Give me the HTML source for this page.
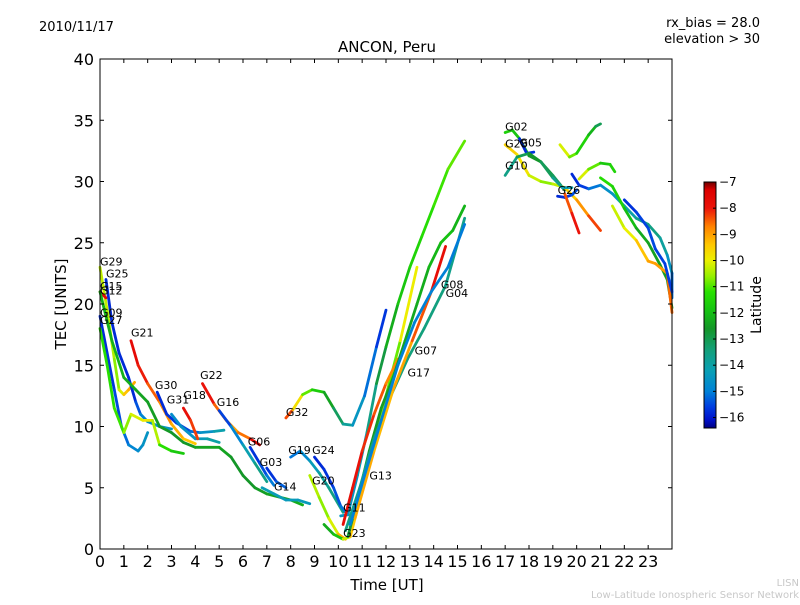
<!DOCTYPE html>
<html><head><meta charset="utf-8"><style>
body{margin:0;background:#fff}
svg text{font-family:"DejaVu Sans","Liberation Sans",sans-serif}
</style></head><body>
<svg id="chart" width="800" height="600" viewBox="0 0 800 600" xmlns="http://www.w3.org/2000/svg">
<rect width="800" height="600" fill="#fff"/>
<text x="39" y="31" font-size="13">2010/11/17</text>
<text x="760" y="27" font-size="13" text-anchor="end">rx_bias = 28.0</text>
<text x="760" y="43" font-size="13" text-anchor="end">elevation &gt; 30</text>
<text x="387" y="52" font-size="15" text-anchor="middle">ANCON, Peru</text>
<text x="387" y="590" font-size="15" text-anchor="middle">Time [UT]</text>
<text x="66" y="304" font-size="15" text-anchor="middle" transform="rotate(-90 66 304)">TEC [UNITS]</text>
<text x="799" y="586" font-size="10" fill="#c8c8c8" text-anchor="end">LISN</text>
<text x="799" y="598" font-size="10" fill="#c8c8c8" text-anchor="end">Low-Latitude Ionospheric Sensor Network</text>
<g id="plot"></g>
<g id="axes"></g>
<g id="cbar"></g>
</svg>
<script>
const xTicks=[0,1,2,3,4,5,6,7,8,9,10,11,12,13,14,15,16,17,18,19,20,21,22,23];
const yTicks=[0,5,10,15,20,25,30,35,40];
const cbTicks=[-7,-8,-9,-10,-11,-12,-13,-14,-15,-16];
const seriesLabels=["G29","G25","G15","G12","G09","G27","G21","G30","G31","G18","G22","G16","G06","G03","G14","G32","G19","G24","G20","G11","G23","G13","G07","G17","G08","G04","G02","G28","G05","G10","G26","","","","","","",""];
const labelTimes=[0,0.25,0,0,0,0,1.3,2.3,2.8,3.5,4.2,4.9,6.2,6.7,7.3,7.8,7.9,8.9,8.9,10.2,10.2,11.3,13.2,12.9,14.3,14.5,17.0,17.0,17.6,17.0,19.2];
const labelValues=[23,22,21,20.6,18.8,18.2,17.2,12.9,11.7,12.1,13.7,11.5,8.3,6.6,4.6,10.7,7.6,7.6,5.1,2.9,0.8,5.5,15.7,13.9,21.1,20.4,34,32.6,32.7,30.8,28.8];
const seriesLats=[
[-10.3,-10.3,-10.5,-10.8,-9.5,-9.2,-9],
[-15.8,-15.8,-15.8,-15.8,-15.8,-15,-14.8,-14.5,-14.5],
[-7.5,-7.6],
[-12.2,-12.2,-12.2,-12.3,-12.5,-12.5,-12.6,-12.6,-12.5,-12.3,-12.5,-12.7,-12.5,-12.5,-12.3,-12.2],
[-15.8,-15.8,-15.6,-15.4,-15,-14.8,-14.6,-14.5],
[-11.3,-11.3,-11.2,-11,-10.3,-10,-9.8,-11,-11.5,-12],
[-7.6,-7.8,-8.3,-8.6,-9,-9.3,-9.5],
[-15.8,-15.8,-15.6,-15.4,-15,-14.2,-14],
[-14.8,-14.6,-14.5,-14.2,-13.8],
[-7.7,-8,-8.5],
[-7.7,-8.2,-8.8,-9.2,-8,-7.6],
[-15.8,-15.3,-14.5,-13.8,-13.4],
[-15.8,-15.6,-15.3,-14.8],
[-15.8,-15.6,-15],
[-14.2,-14.3,-14.3,-14.4,-14.3],
[-7.7,-9,-10.5,-11.3,-12,-12.8,-13.5,-14.2,-14.8,-15.5,-15.8],
[-15.2,-15,-14.6,-14,-13.7,-13.5],
[-15.8,-15.8,-15.6,-15.2,-15],
[-10.3,-10.5,-10.8,-9.5,-8.8],
[-14.5,-14.6,-14.5,-14,-13.2,-12.5,-12,-11.6,-11.4,-11.2,-11,-10.8],
[-12.3,-12.2,-11.5,-9,-9.8,-10.5,-10.8,-10.9,-9],
[-7.7,-7.8,-8,-8.3,-8.5,-9],
[-12.8,-12.8,-12.6,-12.5,-12.5,-12.4,-12.3,-12.2,-12,-11.8,-12.5],
[-13.6,-13.6,-13.6,-13.5,-13.5,-13.4,-13.6,-13.7],
[-9,-9.2,-9.3,-8.8,-8,-7.6],
[-15,-15,-15,-15,-15,-15,-15,-15.1],
[-11.5,-11.7,-12,-12.4,-12.8,-13,-13.2],
[-9.5,-9.6,-10,-10.5,-10.8,-9.8,-9.2,-8.6,-8],
[-15.8,-15.8,-15.6],
[-13.6,-13.6,-12.5,-12.8,-13.4,-14,-14.3],
[-15.8,-15.8,-15.6,-15.3],
[-8.6,-8.2,-7.8],
[-9.8,-10.5,-11.2,-11.8,-12.5,-13.6],
[-10,-10.3,-11.5,-12,-11],
[-15.8,-15.8,-15.4,-14.8,-14.5,-14.3,-13.8,-13.6,-13.5,-14.3,-14.8,-15.6],
[-11.3,-11.3,-11.8,-12.2,-12.4,-12.5,-12.5,-12.4],
[-10,-10.5,-9.5,-9.2,-8.8,-9.1,-8],
[-15.8,-15.6,-15.5,-15.5,-15.6,-15.6]
];
const seriesTimes=[
[0,0.3,0.6,0.8,1.0,1.2,1.45],
[0.25,0.5,0.8,1.2,1.5,1.7,2.0,2.5,3.0],
[0,0.25],
[0,0.5,1,1.5,2,2.5,3,3.5,4,5,5.5,6,6.5,7,8,8.5],
[0,0.3,0.6,0.9,1.2,1.6,1.8,2.0],
[0,0.3,0.6,1.0,1.3,1.8,2.2,2.5,3.0,3.5],
[1.3,1.6,2.0,2.5,3.0,3.5,4.0],
[2.4,2.8,3.2,3.8,4.2,4.8,5.2],
[3.0,3.4,4.0,4.5,5.0],
[3.5,3.8,4.1],
[4.3,4.8,5.3,5.8,6.3,6.7],
[5.0,5.5,6.0,6.5,7.0],
[6.3,6.7,7.0,7.3],
[7.0,7.4,7.8],
[6.8,7.3,7.8,8.3,8.8],
[7.8,8.1,8.5,8.9,9.4,9.8,10.2,10.6,11.1,11.6,12.0],
[8.0,8.4,8.8,9.2,9.6,10.2],
[9.0,9.4,9.8,10.1,10.4],
[8.8,9.2,9.6,10.0,10.3],
[10.1,10.4,10.8,11.2,11.6,12.0,12.5,13.0,13.5,14.0,14.6,15.3],
[9.4,9.8,10.2,10.5,10.9,11.4,12.0,12.6,13.3],
[10.2,10.6,11.0,11.5,12.0,12.5],
[10.4,10.8,11.3,11.8,12.3,12.8,13.3,13.8,14.3,14.8,15.3],
[10.3,10.9,11.5,12.2,12.9,13.6,14.5,15.3],
[10.7,11.5,12.3,13.1,13.9,14.5],
[10.5,11.1,11.8,12.5,13.2,13.9,14.6,15.3],
[17.0,17.3,17.6,18.0,18.5,19.0,19.5],
[17.0,17.5,18.0,18.5,19.0,19.5,20.0,20.5,21.0],
[17.6,17.9,18.2],
[17.0,17.5,18.0,18.5,19.0,19.4,19.8],
[19.2,19.5,19.8,20.0],
[19.5,19.8,20.1],
[19.3,19.7,20.0,20.5,20.8,21.0],
[20.1,20.5,21.0,21.4,21.6],
[19.8,20.1,20.5,21.0,21.5,22.0,22.5,23.0,23.5,23.8,24.0,24.0],
[21.0,21.5,22.0,22.5,23.0,23.5,23.8,24.0],
[21.5,22.0,22.5,23.0,23.3,23.8,24.0],
[22.0,22.5,23.0,23.3,23.7,24.0]
];
const seriesValues=[
[23,19.5,15.5,13,12.6,13,13.6],
[22,18.5,16,14,12,11,10.4,10,9.8],
[21,20.5],
[21,17,14,13,12,10,9.5,8.7,8.3,8.3,7.5,6,5,4.5,4,3.6],
[19,16,13,10,8.5,8,8.5,9.5],
[18,15,11.5,9.5,11,10.5,10.5,8.5,8,7.8],
[17,15,13.5,12,10.2,9,8.6],
[12.8,11,10.3,9.6,9.5,9.6,9.7],
[11,10,9,9,8.7],
[11.5,10.5,9],
[13.5,11.8,10.5,9.5,9,8.5],
[11.3,10,8.5,7,5.5],
[8.3,7,6,5.2],
[6.6,5.5,5],
[5,4.5,4,4,3.7],
[10.7,11.4,12.6,13,12.8,11.5,10.2,10.1,12.5,16.5,19.5],
[7.5,8,7.2,6.2,5,3],
[7.5,6.5,5,3.5,2.8],
[6,4.2,2.5,1.2,0.8],
[2.7,2.8,6,9.5,13.5,16.5,20,23,25.5,28,31,33.3],
[2,1.2,0.8,1,4,8,12.5,17,23],
[2,5,8,11,13.5,15.5],
[1,4,8,11.5,14,17,20,23,25,26,28],
[1.5,5,9,12.5,15.5,18,21.5,27],
[2.5,8,13,17,21,24.7],
[2,6,10.5,15,18.5,21,23,26.5],
[34,34.2,33.5,32.1,31.6,30.5,29.3],
[33,32.2,30.5,30,29.8,29.5,28.5,27.2,26],
[33.5,32.3,32.4],
[30.5,32,32.3,31.6,30.3,29.5,29.5],
[28.8,28.7,28.9,29.3],
[29,27.4,25.8],
[33,32,32.3,33.8,34.5,34.7],
[30.2,31,31.5,31.4,30.8],
[30.6,29.7,29.4,29.7,29,28,27,26.5,25.4,24,22.5,20.5],
[30.3,29.6,27.8,26.2,25,23.2,22,19.7],
[28,26.2,25.2,23.5,23.3,22.5,19.3],
[28.5,27.5,26.2,24.5,23.3,21]
];
const X0=100,X1=672,Y0=549,Y1=59;
const xs=t=>X0+(X1-X0)*t/24;
const ys=v=>Y0-(Y0-Y1)*v/40;
const stops=[[-7,[110,0,0]],[-7.3,[220,0,0]],[-8,[235,20,10]],[-8.7,[255,130,0]],[-9.4,[255,200,0]],[-10,[235,240,0]],[-10.6,[150,240,0]],[-11.2,[40,225,0]],[-12,[20,190,20]],[-12.6,[20,150,40]],[-13.4,[20,160,120]],[-14.2,[10,160,180]],[-15,[0,130,215]],[-15.6,[0,60,225]],[-16.1,[0,15,200]],[-16.4,[0,0,130]]];
function cmap(l){
  if(l>=stops[0][0])return rgb(stops[0][1]);
  for(let i=1;i<stops.length;i++){
    if(l>=stops[i][0]){const a=stops[i-1],b=stops[i],f=(a[0]-l)/(a[0]-b[0]);
      return rgb(a[1].map((c,k)=>c+(b[1][k]-c)*f));}
  }
  return rgb(stops[stops.length-1][1]);
}
function rgb(c){return `rgb(${c.map(Math.round).join(',')})`;}
const NS="http://www.w3.org/2000/svg";
function mk(tag,attrs,parent){const e=document.createElementNS(NS,tag);for(const k in attrs)e.setAttribute(k,attrs[k]);parent.appendChild(e);return e;}
const plot=document.getElementById('plot');
const labelLayer=document.createElementNS(NS,'g');
seriesTimes.forEach((ts,i)=>{
  const g=mk('g',{},plot);
  
  
  const vs=seriesValues[i],ls=seriesLats[i];
  for(let j=0;j<ts.length-1;j++){
    const l=mk('line',{x1:xs(ts[j]),y1:ys(vs[j]),x2:xs(ts[j+1]),y2:ys(vs[j+1]),stroke:cmap((ls[j]+ls[j+1])/2),'stroke-width':2.8,'stroke-linecap':'round'},g);
    
    
  }
});
plot.appendChild(labelLayer);
seriesLabels.forEach((lab,i)=>{
  if(!lab)return;
  const t=mk('text',{x:xs(labelTimes[i]),y:ys(labelValues[i])-2,'font-size':11,fill:'#000'},labelLayer);
  
  
  t.textContent=lab;
});
const ax=document.getElementById('axes');
mk('rect',{x:X0,y:Y1,width:X1-X0,height:Y0-Y1,fill:'none',stroke:'#000','stroke-width':1},ax);
xTicks.forEach(t=>{
  mk('line',{x1:xs(t),y1:Y0,x2:xs(t),y2:Y0-4,stroke:'#000'},ax);
  mk('line',{x1:xs(t),y1:Y1,x2:xs(t),y2:Y1+4,stroke:'#000'},ax);
  const tx=mk('text',{x:xs(t),y:Y0+18,'font-size':16,'text-anchor':'middle'},ax);
  
  
  tx.textContent=t;
});
yTicks.forEach(v=>{
  mk('line',{x1:X0,y1:ys(v),x2:X0+4,y2:ys(v),stroke:'#000'},ax);
  mk('line',{x1:X1,y1:ys(v),x2:X1-4,y2:ys(v),stroke:'#000'},ax);
  const tx=mk('text',{x:X0-6,y:ys(v)+6,'font-size':16,'text-anchor':'end'},ax);
  
  
  tx.textContent=v;
});
const cb=document.getElementById('cbar');
const CT=182,CB=428,CL=704,CW=12,LMAX=-7,LMIN=-16.4;
const cy=l=>CT+(CB-CT)*(LMAX-l)/(LMAX-LMIN);
for(let y=CT;y<CB;y++){mk('rect',{x:CL,y:y,width:CW,height:1.2,fill:cmap(LMAX-(y-CT+0.5)/(CB-CT)*(LMAX-LMIN))},cb);}
mk('rect',{x:CL,y:CT,width:CW,height:CB-CT,fill:'none',stroke:'#000','stroke-width':1},cb);
cbTicks.forEach(l=>{
  mk('line',{x1:CL+CW-3,y1:cy(l),x2:CL+CW,y2:cy(l),stroke:'#000'},cb);
  const tx=mk('text',{x:CL+CW+3,y:cy(l)+4,'font-size':12},cb);
  
  
  tx.textContent='\u2212'+Math.abs(l);
});
const ct=mk('text',{x:761,y:305,'font-size':14,'text-anchor':'middle',transform:'rotate(-90 761 305)'},cb);


ct.textContent='Latitude';
</script>
</body></html>
